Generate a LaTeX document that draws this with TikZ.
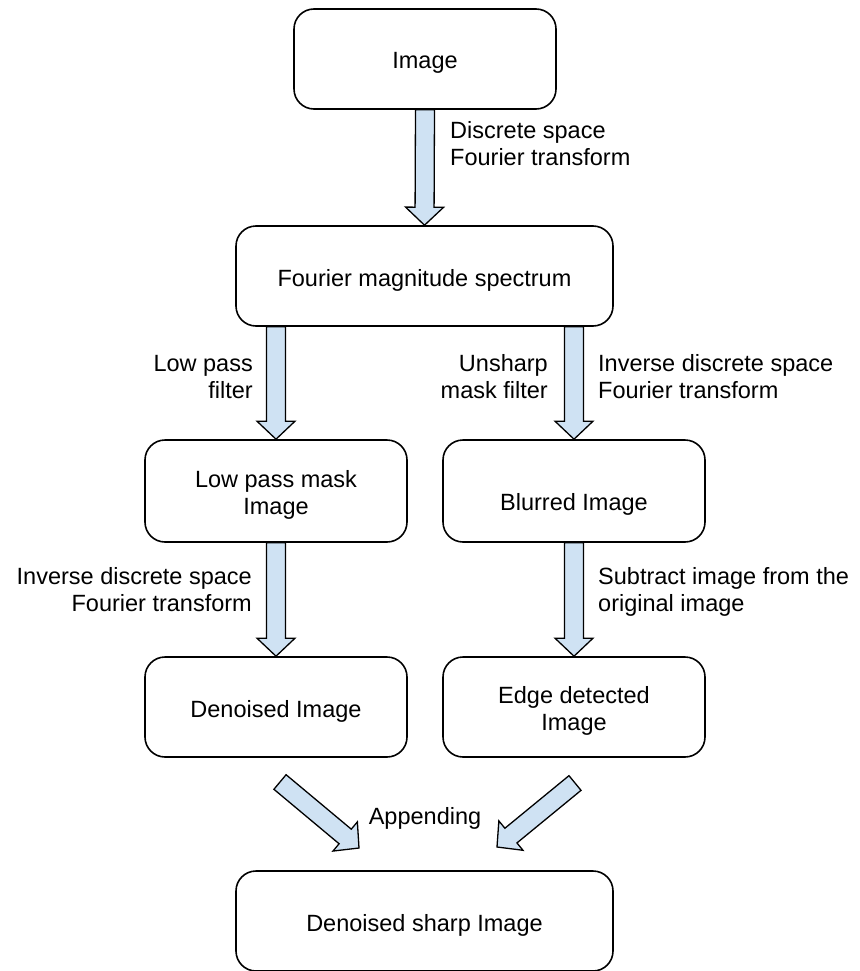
\documentclass[tikz,border=0pt]{standalone}
\usepackage{fontspec}
\setmainfont{Liberation Sans}
\usetikzlibrary{calc}
\definecolor{arrowblue}{HTML}{CFE2F3}
\begin{document}
\begin{tikzpicture}[x=1pt, y=-1pt,
    every node/.style={font=\fontsize{23.5pt}{27pt}\selectfont},
    box/.style={draw, line width=1.6pt, rounded corners=20pt,
      minimum width=262pt, minimum height=100pt, align=center,
      text height=25pt, text depth=5pt},
    twolines/.style={text height=52pt},
    widebox/.style={box, minimum width=377pt},
    lbl/.style={inner sep=0pt},
    fatarrow/.style={draw, line width=1.3pt, fill=arrowblue, line join=miter,
      to path={
        ($(\tikztotarget)!18pt!(\tikztostart)$) coordinate (fah)
        ($(\tikztostart)!9.5pt!90:(\tikztotarget)$)
        -- ($(fah)!9.5pt!-90:(\tikztostart)$)
        -- ($(fah)!19pt!-90:(\tikztostart)$)
        -- (\tikztotarget)
        -- ($(fah)!19pt!90:(\tikztostart)$)
        -- ($(fah)!9.5pt!90:(\tikztostart)$)
        -- ($(\tikztostart)!9.5pt!-90:(\tikztotarget)$)
        -- cycle}}]
  \useasboundingbox (0,0) rectangle (859,971);

  % boxes
  \node [box] (img) at (425,59) {Image};
  \node [widebox] (fms) at (424.5,276) {Fourier magnitude spectrum};
  \node [box, twolines, minimum height=102pt] (lpm) at (276,491) {Low pass mask\\Image};
  \node [box, text height=43pt, minimum height=102pt] (blr) at (574,491) {Blurred Image};
  \node [box] (den) at (276,707) {Denoised Image};
  \node [box, twolines] (edg) at (574,707) {Edge detected\\Image};
  \node [widebox] (dsi) at (424.5,921) {Denoised sharp Image};

  % free ends of the two slanted arrows
  \coordinate (lt) at (280,782);
  \coordinate (lh) at (359,848);
  \coordinate (rt) at (575,783);
  \coordinate (rh) at (497,847);

  % arrows
  \draw [fatarrow] (img.south) to (fms.north);
  \draw [fatarrow] (lpm.north |- fms.south) to (lpm.north);
  \draw [fatarrow] (blr.north |- fms.south) to (blr.north);
  \draw [fatarrow] (lpm.south) to (den.north);
  \draw [fatarrow] (blr.south) to (edg.north);
  \draw [fatarrow] (lt) to (lh);
  \draw [fatarrow] (rt) to (rh);

  % labels
  \node [lbl, anchor=west, align=left] (dsft) at (450,144) {Discrete space\\Fourier transform};
  \node [lbl, anchor=east, align=right] (lpf) at (253,377) {Low pass\\filter};
  \node [lbl, anchor=east, align=right] (umf) at (548,377) {Unsharp\\mask filter};
  \node [lbl, anchor=west, align=left] (idft1) at (598,377) {Inverse discrete space\\Fourier transform};
  \node [lbl, anchor=east, align=right] (idft2) at (252,590) {Inverse discrete space\\Fourier transform};
  \node [lbl, anchor=west, align=left] (sub) at (598,592) {Subtract image from the\\original image};
  \node [lbl, anchor=base] (app) at (425,824) {Appending};
\end{tikzpicture}
\end{document}
